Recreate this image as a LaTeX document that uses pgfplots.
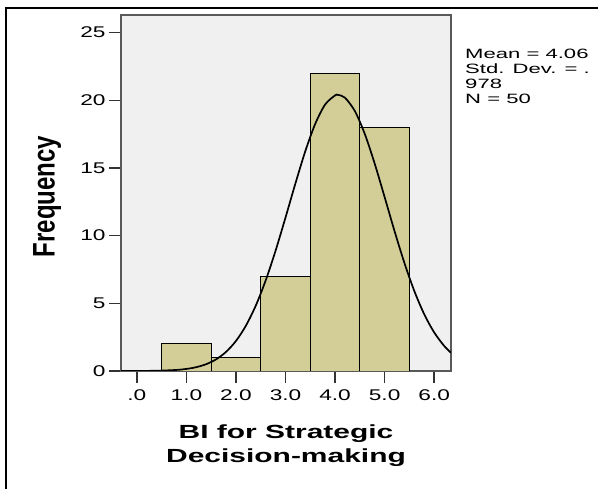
\documentclass[border=0pt]{standalone}
\usepackage{fontspec}
\setmainfont{Liberation Sans}[FakeStretch=1.46]
\newfontfamily\plainsans{Liberation Sans}
\usepackage{graphicx}
\usepackage{pgfplots}
\pgfplotsset{compat=1.18}
\definecolor{barfill}{RGB}{211,206,151}
\definecolor{plotbg}{RGB}{240,240,240}
\begin{document}
\begin{tikzpicture}
\path[use as bounding box] (0,0) rectangle (598bp,489bp);
\draw[line width=2.2bp] (6bp,0) -- (6bp,481.2bp) -- (598bp,481.2bp);
\begin{axis}[
  at={(121bp,118bp)}, anchor=south west,
  width=330bp, height=356bp, scale only axis,
  xmin=-0.32, xmax=6.34, ymin=0, ymax=26.3,
  axis background/.style={fill=plotbg},
  axis line style={draw=black!65, line width=1.5bp},
  xtick={0,1,2,3,4,5,6}, xticklabels={.0,1.0,2.0,3.0,4.0,5.0,6.0},
  ytick={0,5,10,15,20,25}, yticklabels={0,5,10,15,20,25},
  xtick pos=lower, ytick pos=left,
  tick align=outside, major tick length=12bp,
  tick style={draw=black!80, line width=1.5bp},
  ticklabel style={font=\fontsize{15.5bp}{18bp}\selectfont},
  xticklabel style={yshift=-3bp},
  /pgf/number format/assume math mode=true,
  ylabel={\scalebox{1}[1.3]{\plainsans\bfseries\fontsize{24bp}{28bp}\selectfont Frequency}},
  ylabel style={at={(axis description cs:-0.224,0.49)}, anchor=center},
  xlabel={BI for Strategic\\Decision-making},
  xlabel style={at={(axis description cs:0.5,-0.21)}, anchor=center, align=center,
    xscale=1.08, font=\bfseries\fontsize{19bp}{24bp}\selectfont},
]
\addplot[ybar interval, fill=barfill, draw=black, line width=0.9bp]
  coordinates {(0.5,2) (1.5,1) (2.5,7) (3.5,22) (4.5,18) (5.5,18)};
\addplot[smooth, black, line width=1.7bp] coordinates {
(-0.32,0.001) (0,0.004) (0.4,0.019) (0.8,0.079) (1.0,0.153) (1.2,0.284)
(1.4,0.505) (1.6,0.862) (1.8,1.412) (2.0,2.219) (2.2,3.343) (2.4,4.830)
(2.6,6.693) (2.8,8.894) (3.0,11.336) (3.2,13.856) (3.4,16.242) (3.6,18.260)
(3.8,19.688) (4.0,20.358) (4.06,20.396) (4.2,20.188) (4.4,19.200) (4.6,17.512)
(4.8,15.319) (5.0,12.851) (5.2,10.340) (5.4,7.978) (5.6,5.904) (5.8,4.190)
(6.0,2.852) (6.2,1.861) (6.34,1.347)};
\end{axis}
\node[anchor=north west, align=left, inner sep=0pt, xscale=1.12,
  font=\fontsize{13.5bp}{14.8bp}\selectfont] at (465bp,440bp)
  {Mean = 4.06\\Std. Dev. = .\\978\\N = 50};
\end{tikzpicture}
\end{document}
